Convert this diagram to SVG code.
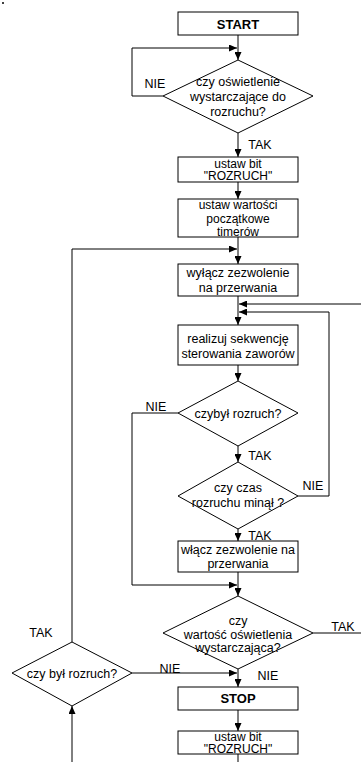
<svg xmlns="http://www.w3.org/2000/svg" width="361" height="762" viewBox="0 0 361 762">
<defs>
<marker id="ah" markerWidth="9" markerHeight="7" refX="8" refY="3.5" orient="auto" markerUnits="userSpaceOnUse"><path d="M0,0 L8,3.5 L0,7 z" fill="#000"/></marker>
<style>
.b{fill:#fff;stroke:#000;stroke-width:1}
.t{font-family:"Liberation Sans",Arial,sans-serif;font-size:12.5px;text-anchor:middle;fill:#000}
.s{font-size:12px}
.bold{font-weight:bold;font-size:13px}
.c{fill:none;stroke:#000;stroke-width:1}
.a{marker-end:url(#ah)}
</style>
</defs>
<rect width="361" height="762" fill="#fff"/>
<circle cx="3" cy="3" r="1" fill="#000"/>
<g id="connectors">
<path class="c a" d="M238,35 V60"/>
<path class="c a" d="M163,96 H132 V48 H237"/>
<path class="c a" d="M238,133 V157"/>
<path class="c a" d="M238,182 V199"/>
<path class="c a" d="M238,237 V264"/>
<path class="c a" d="M72,642 V249 H237"/>
<path class="c a" d="M238,296 V325"/>
<path class="c a" d="M361,304 H239"/>
<path class="c a" d="M298,496 H329 V312 H239"/>
<path class="c a" d="M238,365 V381"/>
<path class="c a" d="M178,413 H132 V585 H237"/>
<path class="c a" d="M238,446 V462"/>
<path class="c a" d="M238,529 V541"/>
<path class="c a" d="M238,572 V596"/>
<path class="c" d="M313,633 H361"/>
<path class="c a" d="M238,669 V687"/>
<path class="c a" d="M132,673 H237"/>
<path class="c a" d="M238,710 V731"/>
<path class="c" d="M238,754 V762"/>
<path class="c a" d="M72,762 V706"/>
</g>
<g id="start"><rect class="b" x="178" y="12" width="120" height="23"/><text class="t bold" x="238" y="28.5">START</text></g>
<g id="d1"><polygon class="b" points="238,60 313,96 238,133 163,96"/>
<text class="t" x="238" y="86">czy oświetlenie</text><text class="t" x="238" y="101">wystarczające do</text><text class="t" x="238" y="115.5">rozruchu?</text></g>
<g id="b2"><rect class="b" x="178" y="157" width="120" height="25"/><text class="t s" x="238" y="167.5">ustaw bit</text><text class="t s" x="238" y="180">"ROZRUCH"</text></g>
<g id="b3"><rect class="b" x="178" y="199" width="120" height="38"/><text class="t s" x="238" y="209">ustaw wartości</text><text class="t s" x="238" y="223">początkowe</text><text class="t s" x="238" y="236">timerów</text></g>
<g id="b4"><rect class="b" x="178" y="264" width="120" height="32"/><text class="t" x="238" y="277">wyłącz zezwolenie</text><text class="t" x="238" y="291.5">na przerwania</text></g>
<g id="b5"><rect class="b" x="178" y="325" width="120" height="40"/><text class="t" x="238" y="343">realizuj sekwencję</text><text class="t" x="238" y="357.5">sterowania zaworów</text></g>
<g id="d2"><polygon class="b" points="238,381 298,413 238,446 178,413"/><text class="t" x="238" y="417.5">czybył rozruch?</text></g>
<g id="d3"><polygon class="b" points="238,462 298,496 238,529 178,496"/><text class="t" x="238" y="492">czy czas</text><text class="t" x="238" y="507">rozruchu minął ?</text></g>
<g id="b6"><rect class="b" x="178" y="541" width="120" height="31"/><text class="t" x="238" y="554">włącz zezwolenie na</text><text class="t" x="238" y="567.5">przerwania</text></g>
<g id="d4"><polygon class="b" points="238,596 313,633 238,669 163,633"/><text class="t" x="238" y="625">czy</text><text class="t" x="238" y="638.5">wartość oświetlenia</text><text class="t" x="238" y="652">wystarczająca?</text></g>
<g id="d5"><polygon class="b" points="72,642 132,673 72,706 12,673"/><text class="t" x="72" y="677.5">czy był rozruch?</text></g>
<g id="stop"><rect class="b" x="178" y="687" width="120" height="23"/><text class="t bold" x="238" y="703">STOP</text></g>
<g id="b7"><rect class="b" x="178" y="731" width="120" height="23"/><text class="t s" x="238" y="740.5">ustaw bit</text><text class="t s" x="238" y="753">"ROZRUCH"</text></g>
<g id="labels">
<text class="t" x="155" y="88">NIE</text>
<text class="t" x="260" y="149">TAK</text>
<text class="t" x="156" y="411">NIE</text>
<text class="t" x="260" y="460">TAK</text>
<text class="t" x="313" y="490">NIE</text>
<text class="t" x="260" y="540">TAK</text>
<text class="t" x="343" y="631">TAK</text>
<text class="t" x="268" y="680">NIE</text>
<text class="t" x="41" y="637">TAK</text>
<text class="t" x="170" y="673">NIE</text>
</g>
</svg>
